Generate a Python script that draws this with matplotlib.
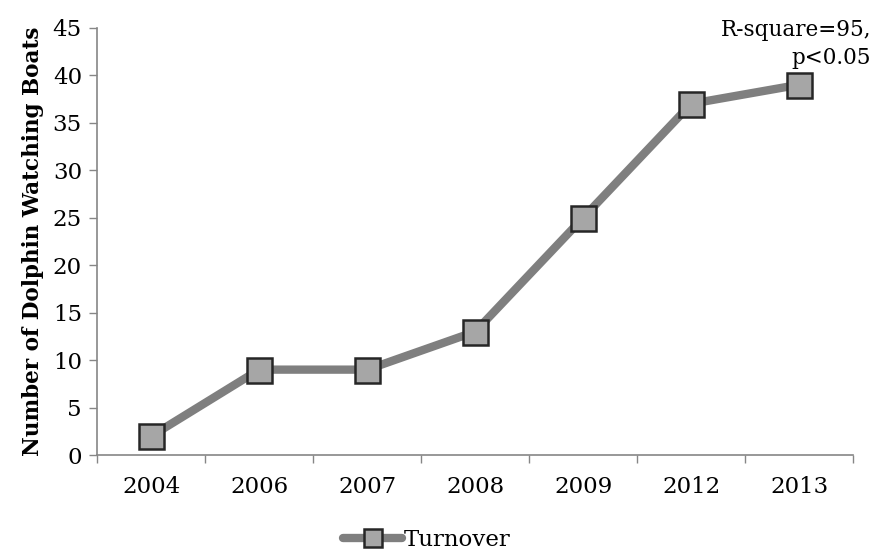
import numpy as np
from matplotlib import pyplot as plt

# data
years = ["2004", "2006", "2007", "2008", "2009", "2012", "2013"]
boats = [2, 9, 9, 13, 25, 37, 39]
yticks = [0, 5, 10, 15, 20, 25, 30, 35, 40, 45]

plt.rcParams['font.family'] = ['DejaVu Serif']

fig = plt.figure(figsize=(8.76, 5.55), dpi=100)
ax = fig.add_axes([0.111, 0.180, 0.863, 0.770])

x = np.arange(len(years))
ax.plot(x, boats, color="#7f7f7f", lw=6, marker="s", markersize=18,
        markerfacecolor="#a6a6a6", markeredgecolor="#262626",
        markeredgewidth=1.8, label="Turnover", solid_capstyle="round")

ax.set_xlim(-0.5, len(years) - 0.5)
ax.set_ylim(0, 45)
ax.set_xticks(x)
ax.set_xticklabels(years)
ax.set_xticks(np.arange(len(years) + 1) - 0.5, minor=True)
ax.set_yticks(yticks)
ax.tick_params(axis="x", which="major", length=0, pad=15, labelsize=16.5)
ax.tick_params(axis="x", which="minor", length=6, color="#868686", width=1)
ax.tick_params(axis="y", length=6, color="#868686", width=1, labelsize=16.5, pad=5)

for s in ["top", "right"]:
    ax.spines[s].set_visible(False)
for s in ["left", "bottom"]:
    ax.spines[s].set_color("#868686")
    ax.spines[s].set_linewidth(1.2)

ax.set_ylabel("Number of Dolphin Watching Boats", fontsize=15.5,
              fontweight="bold", labelpad=6)

ax.text(5.97, 40.7, "R-square=95,\np<0.05", ha="center", va="bottom",
        fontsize=15.5, multialignment="right", clip_on=False, linespacing=1.3)

fig.legend(loc="lower center", bbox_to_anchor=(0.487, -0.03), frameon=False,
           fontsize=16.5, handlelength=2.6, handletextpad=0.05, markerscale=0.7)

plt.savefig("out.png", dpi=100)
